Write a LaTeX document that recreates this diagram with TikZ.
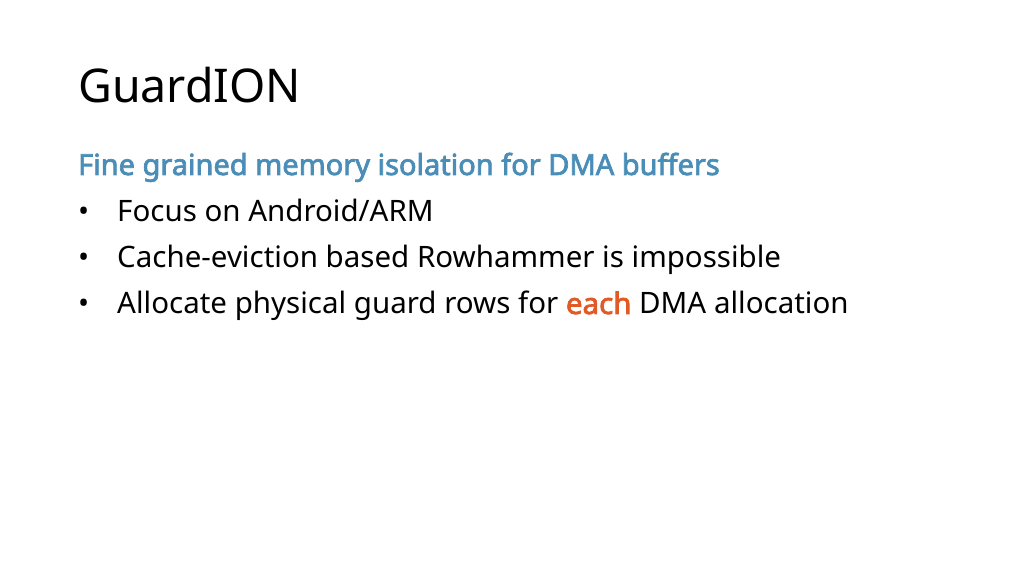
\documentclass[tikz,border=0pt]{standalone}
\usepackage{fontspec}
\setmainfont{Noto Sans}[BoldFont={Noto Sans},BoldFeatures={FakeBold=2.5}]
\definecolor{subblue}{HTML}{4A8DB7}
\definecolor{hl}{HTML}{E15A26}
\begin{document}
\begin{tikzpicture}[x=1pt,y=1pt,
  txt/.style={anchor=base west,inner sep=0pt,font=\fontsize{29.5}{34}\selectfont}]
\useasboundingbox (0,0) rectangle (1024,575);
\node[anchor=base west,inner sep=0pt,font=\fontsize{46.5}{52}\selectfont] (title) at (78,472) {GuardION};
\node[txt,text=subblue,font=\fontsize{29}{32}\selectfont\bfseries] (sub) at (78,400) {Fine grained memory isolation for DMA buffers};
\node[txt] (b1) at (78,353) {•};
\node[txt] (t1) at (117,353) {Focus on Android/ARM};
\node[txt] (b2) at (78,307) {•};
\node[txt] (t2) at (117,307) {Cache-eviction based Rowhammer is impossible};
\node[txt] (b3) at (78,261) {•};
\node[txt] (t3) at (117,261) {Allocate physical guard rows for \textcolor{hl}{\bfseries each} DMA allocation};
\end{tikzpicture}
\end{document}
